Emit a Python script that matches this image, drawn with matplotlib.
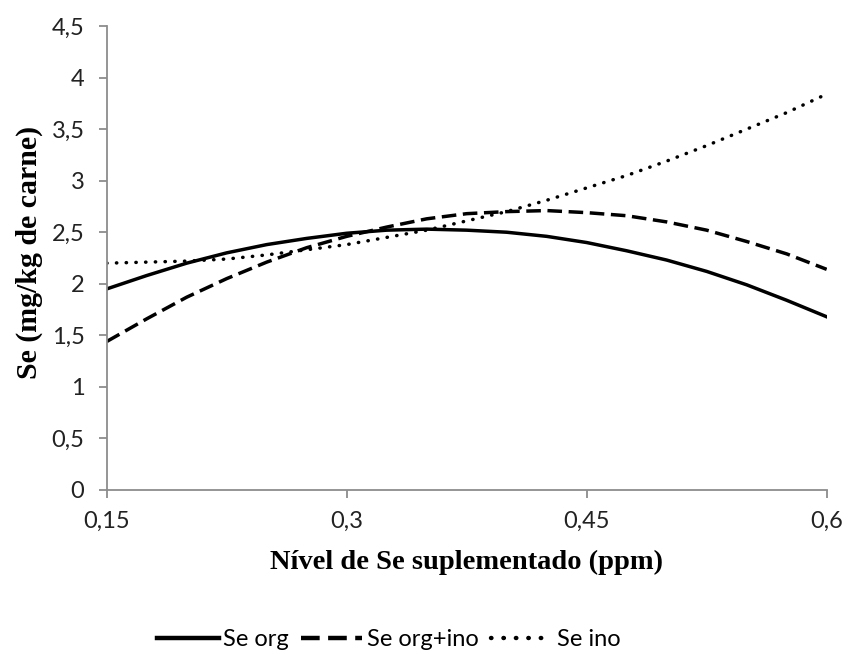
import numpy as np
import matplotlib
matplotlib.use("Agg")
import matplotlib.pyplot as plt

# nível de Se suplementado (ppm)
nivel = [0.15, 0.175, 0.2, 0.225, 0.25, 0.275, 0.3, 0.325, 0.35, 0.375,
         0.4, 0.425, 0.45, 0.475, 0.5, 0.525, 0.55, 0.575, 0.6]

# Se na carne (mg/kg)
se_org = [1.95, 2.08, 2.20, 2.30, 2.38, 2.44, 2.49, 2.52, 2.53, 2.52,
          2.50, 2.46, 2.40, 2.32, 2.23, 2.12, 1.99, 1.84, 1.68]
se_org_ino = [1.44, 1.66, 1.87, 2.05, 2.21, 2.35, 2.46, 2.55, 2.63, 2.68,
              2.70, 2.71, 2.69, 2.66, 2.60, 2.52, 2.41, 2.29, 2.14]
se_ino = [2.20, 2.21, 2.22, 2.24, 2.28, 2.33, 2.38, 2.45, 2.52, 2.61,
          2.70, 2.81, 2.93, 3.05, 3.19, 3.34, 3.50, 3.66, 3.84]

xticks = [0.15, 0.3, 0.45, 0.6]
xlabels = ["0,15", "0,3", "0,45", "0,6"]
yticks = [0, 0.5, 1, 1.5, 2, 2.5, 3, 3.5, 4, 4.5]
ylabels = ["0", "0,5", "1", "1,5", "2", "2,5", "3", "3,5", "4", "4,5"]

fig = plt.figure(figsize=(8.49, 6.54), dpi=100)
ax = fig.add_axes([0.1257, 0.2508, 0.848, 0.7094])

ax.plot(nivel, se_org, color="black", lw=2.5, ls="-", label="Se org")
ax.plot(nivel, se_org_ino, color="black", lw=2.5, ls=(0, (4.2, 1.9)), label="Se org+ino")
ax.plot(nivel, se_ino, color="black", lw=2.5, ls=(0, (0.1, 2.7)),
        dash_capstyle="round", label="Se ino")

ax.set_xlim(0.15, 0.6)
ax.set_ylim(0, 4.5)
ax.set_xticks(xticks)
ax.set_xticklabels(xlabels)
ax.set_yticks(yticks)
ax.set_yticklabels(ylabels)

for s in ["top", "right"]:
    ax.spines[s].set_visible(False)
for s in ["left", "bottom"]:
    ax.spines[s].set_color("#8c8c8c")
    ax.spines[s].set_linewidth(1.3)
ax.tick_params(colors="#8c8c8c", length=6, width=1.3, labelcolor="#222222",
               labelsize=17)
ax.tick_params(axis="y", pad=10)
ax.tick_params(axis="x", pad=9)
for lab in ax.get_xticklabels() + ax.get_yticklabels():
    lab.set_fontfamily("Lato")

ax.set_xlabel("Nível de Se suplementado (ppm)", fontfamily="Liberation Serif",
              fontweight="bold", fontsize=20.5, va="center")
ax.xaxis.set_label_coords(0.5, -0.157)
ax.set_ylabel("Se (mg/kg de carne)", fontfamily="Liberation Serif",
              fontweight="bold", fontsize=21.5, va="center")
ax.yaxis.set_label_coords(-0.108, 0.513)

leg = fig.legend(loc="center", bbox_to_anchor=(0.458, 0.022), ncol=3, frameon=False,
                 prop={"family": "Lato", "size": 17}, handlelength=2.6,
                 handletextpad=0.2, columnspacing=0.5)
for line in leg.get_lines():
    line.set_linewidth(3.2)

fig.savefig("out.png", dpi=100)
